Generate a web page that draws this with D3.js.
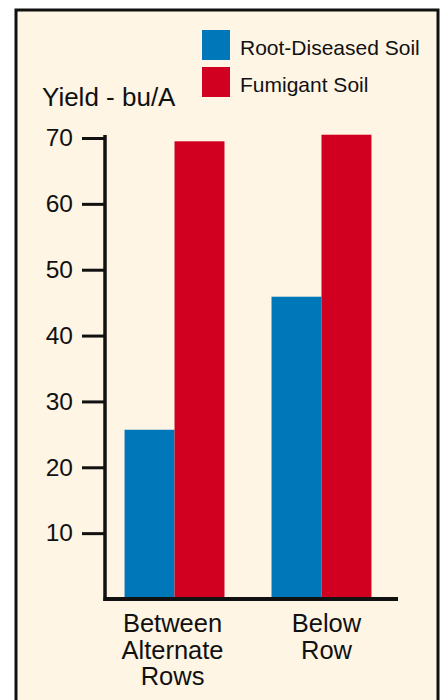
<!DOCTYPE html>
<html>
<head>
<meta charset="utf-8">
<script src="https://cdn.jsdelivr.net/npm/d3@7"></script>
<style>
  html, body { margin: 0; padding: 0; background: #ffffff; }
  svg { display: block; }
  text { font-family: "Liberation Sans", Arial, Helvetica, sans-serif; fill: #111; }
</style>
</head>
<body>
<svg id="chart" width="440" height="700"></svg>
<script>
// ---- data ----
const categories = [["Between", "Alternate", "Rows"], ["Below", "Row"]];
const categoryKeys = ["Between Alternate Rows", "Below Row"];
const seriesNames = ["Root-Diseased Soil", "Fumigant Soil"];
const rootDiseased = [25.7, 45.9];
const fumigant = [69.5, 70.5];
const yTicks = [10, 20, 30, 40, 50, 60, 70];
const yLabel = "Yield - bu/A";

const colors = ["#0077b8", "#d10020"];
const seriesValues = [rootDiseased, fumigant];

const svg = d3.select("#chart");

// panel background with border
svg.append("rect")
  .attr("x", 16).attr("y", 10)
  .attr("width", 422).attr("height", 700)
  .attr("fill", "#fef5e5")
  .attr("stroke", "#111").attr("stroke-width", 3);

// scales
const y = d3.scaleLinear().domain([0, 70]).range([599, 138]);
const x0 = d3.scaleBand().domain(categoryKeys).range([105, 391])
  .paddingInner(0.32).paddingOuter(0.133);
const x1 = d3.scaleBand().domain(seriesNames).range([0, x0.bandwidth()]);

// bars
const rows = categoryKeys.map((c, i) => ({
  key: c,
  vals: seriesNames.map((s, j) => ({ s, j, v: seriesValues[j][i] }))
}));

const g = svg.append("g");
g.selectAll("g.cat").data(rows).join("g")
  .attr("class", "cat")
  .attr("transform", d => `translate(${x0(d.key)},0)`)
  .selectAll("rect").data(d => d.vals).join("rect")
  .attr("x", d => x1(d.s))
  .attr("width", x1.bandwidth())
  .attr("y", d => y(d.v))
  .attr("height", d => y(0) - y(d.v))
  .attr("fill", d => colors[d.j]);

// y axis
const yAxis = d3.axisLeft(y).tickValues(yTicks).tickSize(23).tickPadding(9).tickSizeOuter(0);
const ya = svg.append("g").attr("transform", "translate(105,0)").call(yAxis);
ya.select(".domain").remove();
ya.selectAll(".tick line").attr("stroke", "#111").attr("stroke-width", 3);
ya.selectAll(".tick text").attr("font-size", 24.5)
  .style("font-family", "'Liberation Sans', Arial, sans-serif").attr("fill", "#111");

// y axis line
svg.append("line")
  .attr("x1", 105).attr("x2", 105)
  .attr("y1", y(70) - 3).attr("y2", y(0) + 2)
  .attr("stroke", "#111").attr("stroke-width", 3.5);

// x axis line
svg.append("line")
  .attr("x1", 103.5).attr("x2", 398)
  .attr("y1", y(0)).attr("y2", y(0))
  .attr("stroke", "#111").attr("stroke-width", 4);

// category labels
const catLabelShift = [-2, 5];
categoryKeys.forEach((c, i) => {
  const cx = x0(c) + x0.bandwidth() / 2 + catLabelShift[i];
  const t = svg.append("text")
    .attr("text-anchor", "middle")
    .attr("font-size", 25.5);
  categories[i].forEach((line, k) => {
    t.append("tspan").attr("x", cx).attr("y", 632 + k * 26.5).text(line);
  });
});

// y label
svg.append("text")
  .attr("x", 42).attr("y", 106)
  .attr("font-size", 26)
  .text(yLabel);

// legend
const legend = svg.append("g").attr("transform", "translate(202,30)");
seriesNames.forEach((s, i) => {
  legend.append("rect")
    .attr("x", 0).attr("y", i * 37)
    .attr("width", 28).attr("height", 30)
    .attr("fill", colors[i]);
  legend.append("text")
    .attr("x", 38).attr("y", i * 37 + 25)
    .attr("font-size", 21)
    .text(s);
});
</script>
</body>
</html>
